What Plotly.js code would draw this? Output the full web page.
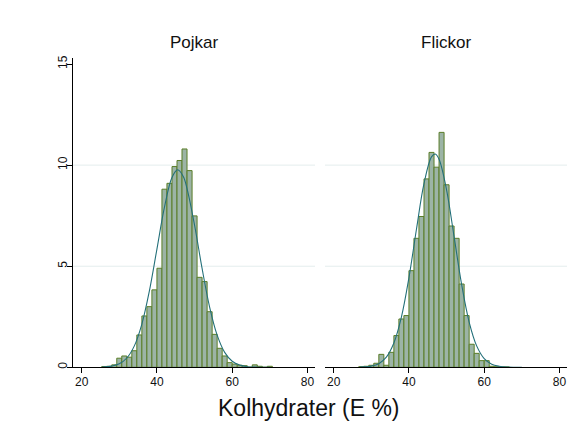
<!DOCTYPE html>
<html>
<head>
<meta charset="utf-8">
<script src="https://cdn.plot.ly/plotly-3.0.1.min.js"></script>
<style>html,body{margin:0;padding:0;background:#fff;}#chart{width:587px;height:430px;}</style>
</head>
<body>
<div id="chart"></div>
<script>
// ---- data ----
var panelTitles = ["Pojkar", "Flickor"];
var xTitle = "Kolhydrater (E %)";
var xTicks = [20, 40, 60, 80];
var yTicks = [0, 5, 10, 15];
var gridLevels = [5, 10];

// bin centres (bin width 4/3 E%)
var boysBins = [26, 27.33, 28.67, 30, 31.33, 32.67, 34, 35.33, 36.67, 38, 39.33, 40.67, 42, 43.33, 44.67, 46, 47.33, 48.67, 50, 51.33, 52.67, 54, 55.33, 56.67, 58, 59.33, 60.67, 62, 63.33, 64.67, 66, 67.33, 68.67, 70];
var boysPct  = [0.04, 0.05, 0.12, 0.45, 0.56, 0.50, 0.82, 1.60, 2.54, 3.00, 3.83, 4.90, 8.81, 9.10, 9.93, 10.23, 10.80, 9.73, 7.49, 4.45, 4.24, 2.75, 1.63, 0.94, 0.56, 0.23, 0.16, 0.10, 0.08, 0, 0.12, 0.05, 0, 0.05];

var girlsBins = [27.33, 28.67, 30, 31.33, 32.67, 34, 35.33, 36.67, 38, 39.33, 40.67, 42, 43.33, 44.67, 46, 47.33, 48.67, 50, 51.33, 52.67, 54, 55.33, 56.67, 58, 59.33, 60.67, 62, 63.33, 64.67, 66];
var girlsPct  = [0.03, 0.05, 0.10, 0.20, 0.64, 0.10, 0.74, 1.57, 2.39, 2.56, 4.78, 6.38, 7.46, 9.32, 10.63, 9.90, 11.62, 9.03, 6.99, 6.38, 4.12, 2.56, 1.14, 0.69, 0.33, 0.33, 0.05, 0.03, 0.02, 0.02];

// normal-curve overlay
var boysCurveX = [25.5, 28, 30, 32, 34, 36, 38, 40, 42, 44, 45.5, 47, 48, 50, 52, 54, 56, 58, 60, 62, 64, 66, 68, 70];
var boysCurveY = [0.01, 0.06, 0.17, 0.46, 1.06, 2.14, 3.78, 5.85, 7.92, 9.39, 9.77, 9.44, 8.84, 7.03, 4.89, 2.98, 1.59, 0.74, 0.30, 0.11, 0.03, 0.01, 0, 0];
var girlsCurveX = [27, 28, 30, 32, 34, 36, 38, 40, 42, 44, 46, 47, 48, 50, 52, 54, 56, 58, 60, 62, 64, 66, 68, 70];
var girlsCurveY = [0.01, 0.02, 0.06, 0.18, 0.50, 1.20, 2.48, 4.43, 6.83, 9.08, 10.41, 10.55, 10.29, 8.78, 6.46, 4.10, 2.24, 1.06, 0.43, 0.15, 0.05, 0.01, 0, 0];

// ---- style ----
var BIN_W = 4 / 3;
var FILL = "#9cb4a6";
var EDGE = "#5a7d28";
var CURVE = "#24707a";
var GRID = "#e4eded";
var FONT = "Liberation Sans, Arial, sans-serif";
var W = 587, H = 430;

function barTrace(x, y, xa, ya) {
  return {type: "bar", x: x, y: y, width: BIN_W, xaxis: xa, yaxis: ya,
    marker: {color: FILL, line: {color: EDGE, width: 1}}, hoverinfo: "skip"};
}
function curveTrace(x, y, xa, ya) {
  return {type: "scatter", mode: "lines", x: x, y: y, xaxis: xa, yaxis: ya,
    line: {color: CURVE, width: 1.1, shape: "spline"}, hoverinfo: "skip"};
}

var traces = [
  barTrace(boysBins, boysPct, "x", "y"),
  curveTrace(boysCurveX, boysCurveY, "x", "y"),
  barTrace(girlsBins, girlsPct, "x2", "y2"),
  curveTrace(girlsCurveX, girlsCurveY, "x2", "y2")
];

var yDom = [1 - 367.3 / H, 1 - 58 / H];
var xDom1 = [73 / W, 315 / W];
var xDom2 = [325 / W, 567 / W];
var xRange = [17.7, 82.0];
var yRange = [0, 15.3];

function xAxis(dom, anchor) {
  return {domain: dom, anchor: anchor, range: xRange, tickvals: xTicks, ticktext: xTicks.map(String),
    ticks: "outside", ticklen: 5, tickwidth: 1, tickcolor: "#000", showline: true, linecolor: "#000",
    linewidth: 1, showgrid: false, zeroline: false, fixedrange: true, ticklabelstandoff: -2,
    tickfont: {family: FONT, size: 12, color: "#111"}};
}

var shapes = [];
gridLevels.forEach(function (g) {
  [["x", "y"], ["x2", "y2"]].forEach(function (p) {
    shapes.push({type: "line", xref: p[0] + " domain", yref: p[1], x0: 0, x1: 1, y0: g, y1: g,
      line: {color: GRID, width: 1}, layer: "below"});
  });
});

var layout = {
  width: W, height: H, margin: {l: 0, r: 0, t: 0, b: 0},
  paper_bgcolor: "#fff", plot_bgcolor: "rgba(0,0,0,0)",
  showlegend: false, barmode: "overlay",
  font: {family: FONT, color: "#111"},
  xaxis: xAxis(xDom1, "y"),
  xaxis2: xAxis(xDom2, "y2"),
  yaxis: {domain: yDom, anchor: "x", range: yRange, tickvals: yTicks, ticktext: yTicks.map(String),
    tickangle: -90, ticks: "outside", ticklen: 5, tickwidth: 1, tickcolor: "#000",
    showline: true, linecolor: "#000", linewidth: 1, showgrid: false,
    zeroline: false, fixedrange: true, ticklabelstandoff: -5, tickfont: {family: FONT, size: 12, color: "#111"}},
  yaxis2: {domain: yDom, anchor: "x2", range: yRange, showticklabels: false,
    ticks: "", showline: false, showgrid: false, zeroline: false, fixedrange: true},
  shapes: shapes,
  annotations: [
    {text: panelTitles[0], xref: "paper", yref: "paper", x: (xDom1[0] + xDom1[1]) / 2, y: 1 - 42 / H,
      xanchor: "center", yanchor: "middle", showarrow: false, font: {family: FONT, size: 17, color: "#111"}},
    {text: panelTitles[1], xref: "paper", yref: "paper", x: (xDom2[0] + xDom2[1]) / 2, y: 1 - 42 / H,
      xanchor: "center", yanchor: "middle", showarrow: false, font: {family: FONT, size: 17, color: "#111"}},
    {text: xTitle, xref: "paper", yref: "paper", x: 308.5 / W, y: 1 - 408 / H,
      xanchor: "center", yanchor: "middle", showarrow: false, font: {family: FONT, size: 23, color: "#111"}}
  ]
};

Plotly.newPlot("chart", traces, layout, {staticPlot: true, displayModeBar: false});
</script>
</body>
</html>
